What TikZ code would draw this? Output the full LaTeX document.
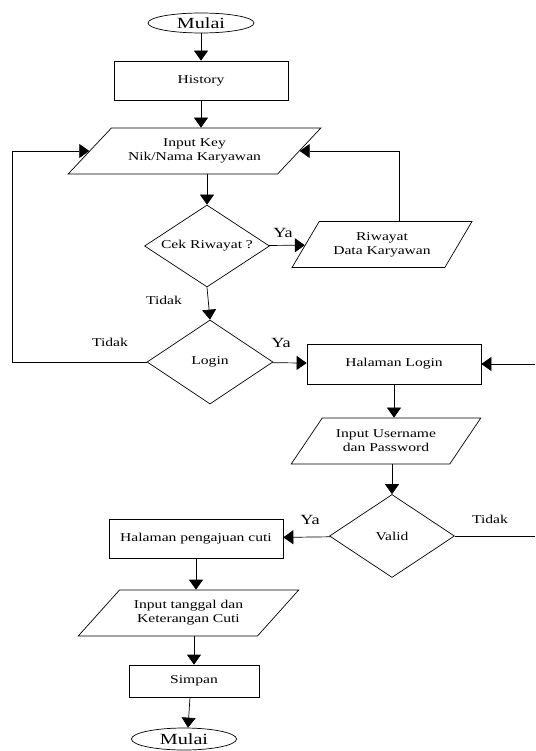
\documentclass[tikz,border=0pt]{standalone}
\usepackage{fontspec}
\setmainfont{Liberation Serif}[FakeStretch=1.3]
\usetikzlibrary{shapes.geometric,arrows.meta}

\begin{document}
\begin{tikzpicture}[x=1pt,y=-1pt,
    line width=0.7pt,
    font=\fontsize{12}{14}\selectfont,
    arr/.style={-{Triangle[width=14pt,length=10pt]}},
    proc/.style={draw,rectangle,minimum height=39pt,inner sep=2pt},
    io/.style={draw,trapezium,trapezium stretches=true,minimum height=46pt,align=center,inner sep=1pt},
    cond/.style={draw,diamond,aspect=1.5,inner sep=1pt},
    term/.style={draw,ellipse,inner sep=0pt,font=\fontsize{15.5}{17}\selectfont},
    big/.style={font=\fontsize{14}{16}\selectfont}]
\useasboundingbox (0,0) rectangle (535,751);

% Draw steps
\node[term,minimum width=106pt,minimum height=20pt] at (201,23) (mulai) {Mulai};
\node[proc,minimum width=174pt] at (201,80.5) (history) {History};
\node[io,minimum width=253pt,trapezium left angle=37,trapezium right angle=143] at (194.5,151) (inputkey) {Input Key\\Nik/Nama Karyawan};
\node[cond,minimum width=125pt,minimum height=82pt] at (207,246) (cekriwayat) {Cek Riwayat ?};
\node[io,minimum width=180pt,trapezium left angle=51,trapezium right angle=129] at (382,244.5) (riwayat) {Riwayat\\Data Karyawan};
\node[cond,minimum width=126pt,minimum height=84pt] at (210,362) (login) {Login};
\node[proc,minimum width=174pt,minimum height=40pt] at (394,364) (hallogin) {Halaman Login};
\node[io,minimum width=190pt,trapezium left angle=44,trapezium right angle=136] at (386,441) (inputuser) {Input Username\\dan Password};
\node[cond,minimum width=125pt,minimum height=83pt] at (392,536) (valid) {Valid};
\node[proc,minimum width=174pt] at (196,538.5) (halcuti) {Halaman pengajuan cuti};
\node[io,minimum width=221pt,trapezium left angle=39,trapezium right angle=141] at (188.5,613) (inputcuti) {Input tanggal dan\\Keterangan Cuti};
\node[proc,minimum width=130pt,minimum height=32pt] at (194,681) (simpan) {Simpan};
\node[term,minimum width=105pt,minimum height=22pt] at (184,739) (selesai) {Mulai};

% Labels
\node[big] at (283,233) (ya1) {Ya};
\node at (164,300) (tidak1) {Tidak};
\node at (110,342) (tidak2) {Tidak};
\node[big] at (281,343) (ya2) {Ya};
\node[big] at (310,520) (ya3) {Ya};
\node at (490,519) (tidak3) {Tidak};

% Draw flow
\draw[arr] (mulai.south) -- (mulai.south |- history.north);
\draw[arr] (history.south) -- (history.south |- inputkey.north);
\draw[arr] (cekriwayat.north |- inputkey.south) -- (cekriwayat.north);
\draw[arr] (cekriwayat) -- (riwayat);
\draw[arr] (cekriwayat.south) -- (login.north);
\draw[arr] (login) -- (hallogin);
\draw[arr] (hallogin.south) -- (hallogin.south |- inputuser.north);
\draw[arr] (valid.north |- inputuser.south) -- (valid.north);
\draw[arr] (valid) -- (halcuti);
\draw[arr] (halcuti.south) -- (halcuti.south |- inputcuti.north);
\draw[arr] (simpan.north |- inputcuti.south) -- (simpan.north);
\draw[arr] ([xshift=-4pt]simpan.south) -- ([xshift=4pt]selesai.north);

% Draw loops
\coordinate (kiri) at (12,0);
\coordinate (kanan) at (399,0);
\coordinate (tepi) at (535,0);
\draw[arr] (login.west) -| (kiri |- inputkey.west) -- (inputkey.west);
\draw[arr] (riwayat.north -| kanan) |- (inputkey.east);
\draw (valid.east) -- (valid.east -| tepi);
\draw[arr] (hallogin.east -| tepi) -- (hallogin.east);

\end{tikzpicture}
\end{document}
